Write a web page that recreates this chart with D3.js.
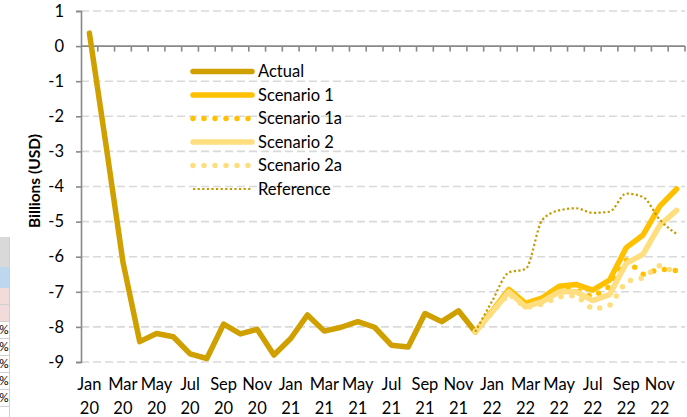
<!DOCTYPE html>
<html>
<head>
<meta charset="utf-8">
<script src="https://cdn.jsdelivr.net/npm/d3@7"></script>
<style>
  html, body { margin: 0; padding: 0; background: #fff; }
  svg { display: block; }
  text { font-family: Lato, "Open Sans", sans-serif; fill: #000; }
</style>
</head>
<body>
<svg id="chart" width="687" height="417"></svg>
<script>
// Monthly categories, Jan 2020 – Dec 2022
const monthNames = ["Jan","Feb","Mar","Apr","May","Jun","Jul","Aug","Sep","Oct","Nov","Dec"];
const years = ["20","21","22"];
const categories = years.flatMap(y => monthNames.map(m => m + " " + y));

// Y axis ticks (billions USD)
const yTicks = [1, 0, -1, -2, -3, -4, -5, -6, -7, -8, -9];

// Observed values Jan 20 – Dec 21
const actual = [0.37, -2.85, -6.15, -8.42, -8.19, -8.28, -8.77, -8.9, -7.92, -8.2, -8.07, -8.8,
                -8.33, -7.66, -8.12, -8.01, -7.85, -8.01, -8.52, -8.57, -7.62, -7.85, -7.54, -8.14];

// Projections Dec 21 – Dec 22
const scenario1  = [-8.14, -7.55, -6.93, -7.33, -7.17, -6.84, -6.79, -6.95, -6.67, -5.74, -5.38, -4.56, -4.07];
const scenario1a = [-8.14, -7.55, -6.95, -7.35, -7.2, -6.95, -6.95, -7.15, -6.85, -6.1, -6.5, -6.35, -6.4];
const scenario2  = [-8.14, -7.58, -7.0, -7.43, -7.28, -7.0, -7.0, -7.25, -7.08, -6.19, -5.93, -5.1, -4.68];
const scenario2a = [-8.14, -7.6, -7.05, -7.45, -7.35, -7.15, -7.1, -7.5, -7.4, -6.7, -6.6, -6.25, -6.45];
const reference  = [-8.14, -7.27, -6.45, -6.35, -4.95, -4.68, -4.62, -4.75, -4.72, -4.2, -4.3, -4.95, -5.35];

const projStart = actual.length - 1; // projections begin at Dec 21

const toPoints = (vals, offset) => vals.map((v, i) => ({ cat: categories[i + offset], v }));

const series = [
  { name: "Actual",      pts: toPoints(actual, 0),             color: "#CFA000", width: 5.5, dash: null,      cap: "round", curve: d3.curveLinear },
  { name: "Scenario 1",  pts: toPoints(scenario1, projStart),  color: "#FFC000", width: 5.5, dash: null,      cap: "round", curve: d3.curveLinear },
  { name: "Scenario 1a", pts: toPoints(scenario1a, projStart), color: "#FFC000", width: 5.5, dash: "0 11",    cap: "round", curve: d3.curveLinear },
  { name: "Scenario 2",  pts: toPoints(scenario2, projStart),  color: "#FFDE80", width: 5.5, dash: null,      cap: "round", curve: d3.curveLinear },
  { name: "Scenario 2a", pts: toPoints(scenario2a, projStart), color: "#FFDE80", width: 5.5, dash: "0 11",    cap: "round", curve: d3.curveLinear },
  { name: "Reference",   pts: toPoints(reference, projStart),  color: "#C49A00", width: 2.2, dash: "2.2 2.4", cap: "butt",  curve: d3.curveMonotoneX }
];

const svg = d3.select("#chart");
const W = 687, H = 417;
svg.append("rect").attr("width", W).attr("height", H).attr("fill", "#fff");

// Spreadsheet cells peeking in at the left edge
const cells = svg.append("g");
cells.append("rect").attr("x", -2).attr("y", 237).attr("width", 11).attr("height", 30).attr("fill", "#D9D9D9");
cells.append("rect").attr("x", -2).attr("y", 267).attr("width", 11).attr("height", 21).attr("fill", "#BDD7EE");
cells.append("rect").attr("x", -2).attr("y", 288).attr("width", 11).attr("height", 33).attr("fill", "#F2DCDB");
cells.append("line").attr("x1", 0).attr("x2", 9).attr("y1", 304.5).attr("y2", 304.5).attr("stroke", "#D0D0D0");
const rowTops = [321, 338, 355, 372, 389];
rowTops.forEach(t => {
  cells.append("line").attr("x1", 0).attr("x2", 9).attr("y1", t + 0.5).attr("y2", t + 0.5).attr("stroke", "#D0D0D0");
  cells.append("text").attr("x", 8.5).attr("y", t + 13).attr("text-anchor", "end")
    .style("font-family", "Calibri, Carlito, 'Liberation Sans', sans-serif").style("font-size", "13px").text("%");
});
cells.append("line").attr("x1", 0).attr("x2", 9).attr("y1", 406.5).attr("y2", 406.5).attr("stroke", "#D0D0D0");
cells.append("line").attr("x1", 9.5).attr("x2", 9.5).attr("y1", 237).attr("y2", 417).attr("stroke", "#D0D0D0");

// Plot area
const plot = { left: 81, right: 685, top: 11, bottom: 362 };

const x = d3.scaleBand().domain(categories).range([plot.left, plot.right]).paddingInner(0).paddingOuter(0);
const y = d3.scaleLinear().domain([-9, 1]).range([plot.bottom, plot.top]);
const cx = c => x(c) + x.bandwidth() / 2;

// Dashed horizontal gridlines
svg.append("g")
  .selectAll("line")
  .data(yTicks.filter(t => t !== 0))
  .join("line")
  .attr("x1", plot.left).attr("x2", plot.right)
  .attr("y1", d => y(d)).attr("y2", d => y(d))
  .attr("stroke", "#D9D9D9").attr("stroke-width", 1.6).attr("stroke-dasharray", "8 4");

// Y axis (plain hyphen for negatives)
const yAxis = d3.axisLeft(y).tickValues(yTicks).tickSize(5).tickPadding(12).tickFormat(d => String(d));
const gy = svg.append("g").attr("transform", `translate(${plot.left},0)`).call(yAxis);
gy.select(".domain").attr("stroke", "#888").attr("stroke-width", 1.6);
gy.selectAll(".tick line").attr("stroke", "#888").attr("stroke-width", 1.6);
gy.selectAll(".tick text").style("font-size", "16.5px").style("font-family", "Lato, sans-serif").attr("fill", "#000");

// Category axis along zero, ticks at band boundaries
const zeroY = y(0);
svg.append("line").attr("x1", plot.left).attr("x2", plot.right).attr("y1", zeroY).attr("y2", zeroY)
  .attr("stroke", "#888").attr("stroke-width", 1.6);
svg.append("g").selectAll("line")
  .data(categories.slice(1))
  .join("line")
  .attr("x1", d => x(d)).attr("x2", d => x(d))
  .attr("y1", zeroY).attr("y2", zeroY + 5.5)
  .attr("stroke", "#888").attr("stroke-width", 1.6);
svg.append("line").attr("x1", plot.right).attr("x2", plot.right).attr("y1", zeroY).attr("y2", zeroY + 5.5)
  .attr("stroke", "#888").attr("stroke-width", 1.6);

// Category labels (every other month, two lines) at the bottom
const labelG = svg.append("g");
categories.forEach((c, i) => {
  if (i % 2 !== 0) return;
  const [m, yr] = c.split(" ");
  const t = labelG.append("text").attr("text-anchor", "middle").style("font-size", "16.5px");
  t.append("tspan").attr("x", cx(c)).attr("y", 390).text(m);
  t.append("tspan").attr("x", cx(c)).attr("y", 414).text(yr);
});

// Y axis title
svg.append("text")
  .attr("transform", `translate(40,181) rotate(-90)`)
  .attr("text-anchor", "middle")
  .style("font-size", "15.5px").style("font-weight", "bold")
  .text("Billions (USD)");

// Series lines
series.forEach(s => {
  const line = d3.line().x(d => cx(d.cat)).y(d => y(d.v)).curve(s.curve);
  svg.append("path")
    .datum(s.pts)
    .attr("d", line)
    .attr("fill", "none")
    .attr("stroke", s.color)
    .attr("stroke-width", s.width)
    .attr("stroke-linecap", s.cap)
    .attr("stroke-linejoin", "round")
    .attr("stroke-dasharray", s.dash);
});

// Legend
const legend = svg.append("g");
const legX0 = 193, legX1 = 252, legY0 = 71.5, legDy = 23.5;
series.forEach((s, i) => {
  const yy = legY0 + i * legDy;
  legend.append("line")
    .attr("x1", legX0).attr("x2", legX1).attr("y1", yy).attr("y2", yy)
    .attr("stroke", s.color).attr("stroke-width", s.width)
    .attr("stroke-linecap", s.cap).attr("stroke-dasharray", s.dash);
  legend.append("text").attr("x", 258).attr("y", yy + 5.5).style("font-size", "16.5px").text(s.name);
});
</script>
</body>
</html>
